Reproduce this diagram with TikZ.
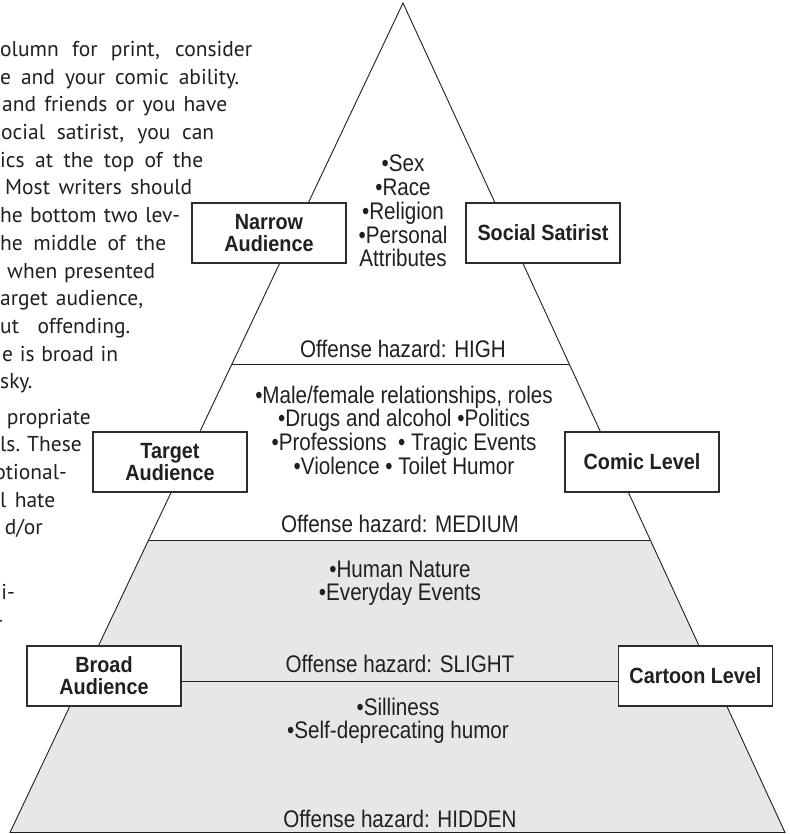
\documentclass[tikz,border=0pt]{standalone}
\usepackage{fontspec}
\setmainfont{PT Sans}
\newfontfamily\pyrfont[FakeStretch=0.86]{Liberation Sans}
\newfontfamily\boxfont[FakeStretch=0.9]{Liberation Sans}
\usetikzlibrary{calc}
\definecolor{pyrgray}{RGB}{230,231,232}
\definecolor{ink}{RGB}{35,31,32}
\definecolor{boxline}{RGB}{45,45,45}
\newcommand\pyrstack[1]{\vtop{\lineskiplimit=-30pt\lineskip=0pt\halign{\hfil##\hfil\cr#1\crcr}}}
\begin{document}
\begin{tikzpicture}[x=1pt,y=-1pt,
  pyrline/.style={draw=ink, line width=0.9pt},
  levelbox/.style={draw=boxline, line width=1.2pt, fill=white, minimum width=154pt, minimum height=60pt, inner sep=0pt, align=center, text=ink, font=\boxfont\bfseries\fontsize{22}{22}\selectfont},
  pyrtext/.style={inner sep=0pt, anchor=base, text=ink, font=\pyrfont\fontsize{24}{23.75}\selectfont},
  paratext/.style={inner sep=0pt, text=ink, font=\fontsize{21.5}{27.7}\selectfont}]
\path[fill=white] (0,0) rectangle (789,834);
\useasboundingbox (0,0) rectangle (789,834);

% pyramid geometry
\coordinate (apex) at (403,3);
\coordinate (bl) at (10,832.5);
\coordinate (br) at (785,832.5);
\coordinate (hl) at ($(apex)!0.4352!(bl)$);
\coordinate (hr) at ($(apex)!0.4352!(br)$);
\coordinate (ml) at ($(apex)!0.6474!(bl)$);
\coordinate (mr) at ($(apex)!0.6474!(br)$);

\fill[pyrgray] (ml) -- (mr) -- (br) -- (bl) -- cycle;
\draw[pyrline] (apex) -- (bl) -- (br) -- cycle;
\draw[pyrline] (hl) -- (hr);
\draw[pyrline] (ml) -- (mr);

% pyramid texts
\node[pyrtext] (topics1) at (403,172) {\pyrstack{•Sex\cr •Race\cr •Religion\cr •Personal\cr Attributes}};
\node[pyrtext] (high) at (403,357) {Offense hazard: HIGH};
\node[pyrtext] (topics2) at (404,403) {\pyrstack{•Male/female relationships, roles\cr •Drugs and alcohol •Politics\cr •Professions~ • Tragic Events\cr •Violence • Toilet Humor}};
\node[pyrtext] (medium) at (400,532) {Offense hazard: MEDIUM};
\node[pyrtext] (topics3) at (400,577) {\pyrstack{•Human Nature\cr •Everyday Events}};
\node[pyrtext] (slight) at (400,672) {Offense hazard: SLIGHT};
\node[pyrtext, font=\pyrfont\fontsize{24}{23}\selectfont] (topics4) at (398,715) {\pyrstack{•Silliness\cr •Self-deprecating humor}};
\node[pyrtext] (hidden) at (400,827) {Offense hazard: HIDDEN};

% level boxes
\node[levelbox] (narrow) at (269,233) {Narrow\\Audience};
\node[levelbox] (social) at (543,233) {Social Satirist};
\node[levelbox] (target) at (170,462) {Target\\Audience};
\node[levelbox] (comic) at (642,462) {Comic Level};
\node[levelbox] (broad) at (104,676) {Broad\\Audience};
\node[levelbox] (cartoon) at (695.5,676) {Cartoon Level};
\draw[pyrline] ([yshift=-5pt]broad.east) -- ([yshift=-5pt]cartoon.west);

% left paragraph (cut at the page edge)
\node[paratext, anchor=base west] (p0) at (0,56.5) {\makebox[252pt][s]{olumn for print, consider}};
\node[paratext, anchor=base west] (p1) at (0,84.2) {\makebox[239pt][s]{e and your comic ability.}};
\node[paratext, anchor=base west] (p2) at (2,111.9) {\makebox[225pt][s]{and friends or you have}};
\node[paratext, anchor=base west] (p3) at (1,139.6) {\makebox[213pt][s]{ocial satirist, you can}};
\node[paratext, anchor=base west] (p4) at (0,167.3) {\makebox[203pt][s]{ics at the top of the}};
\node[paratext, anchor=base west] (p5) at (5,195.0) {\makebox[187pt][s]{Most writers should}};
\node[paratext, anchor=base west] (p6) at (0,222.7) {\makebox[180pt][s]{he bottom two lev-}};
\node[paratext, anchor=base west] (p7) at (0,250.4) {\makebox[166pt][s]{he middle of the}};
\node[paratext, anchor=base west] (p8) at (7,278.1) {\makebox[148pt][s]{when presented}};
\node[paratext, anchor=base west] (p9) at (0,305.8) {\makebox[143pt][s]{arget audience,}};
\node[paratext, anchor=base west] (p10) at (0,333.5) {\makebox[130pt][s]{ut offending.}};
\node[paratext, anchor=base west] (p11) at (2,361.2) {\makebox[116pt][s]{e is broad in}};
\node[paratext, anchor=base west] (p12) at (0,388.9) {sky.};
\node[paratext, anchor=base east] (p13) at (91,424) {propriate};
\node[paratext, anchor=base west] (p14) at (0,451.7) {\makebox[79pt][s]{ls. These}};
\node[paratext, anchor=base east] (p15) at (67,479.4) {otional-};
\node[paratext, anchor=base west] (p16) at (0,507.1) {\makebox[55pt][s]{l hate}};
\node[paratext, anchor=base east] (p17) at (43,534.8) {d/or};
\node[paratext, anchor=base east] (p18) at (15,599) {i-};
\node[paratext, anchor=base east] (p19) at (3.5,627) {-};
\end{tikzpicture}
\end{document}
